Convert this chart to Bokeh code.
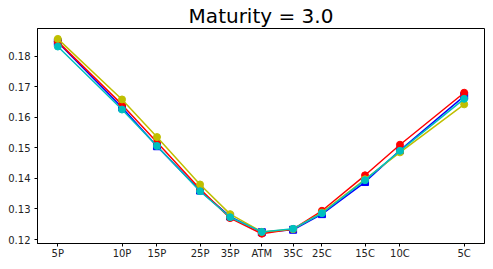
from bokeh.plotting import figure
from bokeh.models import Range1d, FixedTicker, PrintfTickFormatter
from bokeh.embed import file_html
from bokeh.resources import INLINE

labels = ["5P", "10P", "15P", "25P", "35P", "ATM", "35C", "25C", "15C", "10C", "5C"]
strikes = [0.0, 15.8, 24.4, 35.0, 42.4, 50.2, 57.9, 65.0, 75.6, 84.2, 100.0]

vol_red = [0.1847, 0.1641, 0.1518, 0.1365, 0.1270, 0.1219, 0.1234, 0.1294, 0.1410, 0.1510, 0.1680]
vol_blue = [0.1845, 0.1632, 0.1505, 0.1360, 0.1275, 0.1224, 0.1232, 0.1283, 0.1388, 0.1492, 0.1669]
vol_yellow = [0.1856, 0.1658, 0.1535, 0.1380, 0.1283, 0.1225, 0.1234, 0.1288, 0.1397, 0.1485, 0.1642]
vol_cyan = [0.1831, 0.1625, 0.1506, 0.1358, 0.1273, 0.1225, 0.1235, 0.1286, 0.1394, 0.1490, 0.1660]

y_ticks = [0.12, 0.13, 0.14, 0.15, 0.16, 0.17, 0.18]

p = figure(width=485, height=261, output_backend="svg", toolbar_location=None,
           x_range=Range1d(-5, 105), y_range=Range1d(0.1187, 0.1890),
           min_border_left=37, min_border_right=1, min_border_top=19, min_border_bottom=16,
           title="Maturity = 3.0")
p.title.text_font = "DejaVu Sans"
p.title.text_font_size = "20px"
p.title.text_font_style = "normal"
p.title.align = "center"
p.title.text_color = "black"
p.title.standoff = 2

p.xgrid.visible = False
p.ygrid.visible = False
p.outline_line_color = "black"
p.outline_line_width = 1
p.background_fill_color = "white"
p.border_fill_color = "white"

p.xaxis.ticker = FixedTicker(ticks=strikes)
p.xaxis.major_label_overrides = {s: l for s, l in zip(strikes, labels)}
p.yaxis.ticker = FixedTicker(ticks=y_ticks)
p.yaxis.formatter = PrintfTickFormatter(format="%.2f")
for ax in (p.xaxis[0], p.yaxis[0]):
    ax.minor_tick_line_color = None
    ax.major_tick_in = 0
    ax.major_tick_out = 3
    ax.major_label_text_font = "DejaVu Sans"
    ax.major_label_text_font_size = "10px"
    ax.major_label_text_color = "#222222"
    ax.axis_line_color = "black"
p.xaxis.major_label_standoff = 1
p.yaxis.major_label_standoff = 4

series = [
    (vol_blue, "#0000ff", "square"),
    (vol_red, "#ff0000", "circle"),
    (vol_yellow, "#bfbf00", "circle"),
    (vol_cyan, "#00bfbf", "circle"),
]
for vals, col, mk in series:
    p.line(strikes, vals, line_color=col, line_width=1.5)
    p.scatter(strikes, vals, marker=mk, size=7, fill_color=col, line_color=col)

open("out.html", "w").write(file_html(p, INLINE))
